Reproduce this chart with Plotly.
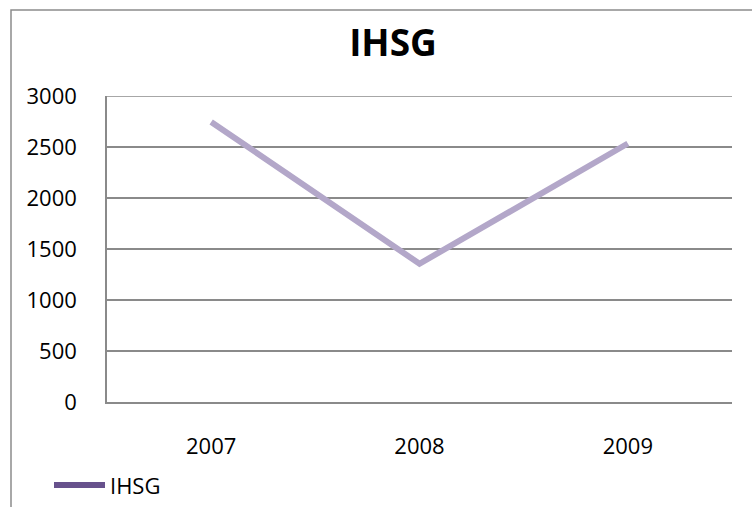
import plotly.graph_objects as go

# IHSG year-end closing values
years = ["2007", "2008", "2009"]
ihsg = [2745.83, 1355.41, 2534.36]
series_name = "IHSG"
y_ticks = [0, 500, 1000, 1500, 2000, 2500, 3000]

W, H = 752, 507
L, R, T, B = 107, 20, 96, 105
pw, ph = W - L - R, H - T - B

def px_x(p):
    return (p - L) / pw

def px_y(p):
    return (H - B - p) / ph

FONT = "Open Sans"
GRID = "#8a8a8a"
LINE = "#b3a7c9"
LEG = "#67518c"

fig = go.Figure()
fig.add_trace(go.Scatter(
    x=years, y=ihsg, mode="lines", name=series_name,
    line=dict(color=LINE, width=6), showlegend=False,
    cliponaxis=False,
))

fig.update_layout(
    width=W, height=H,
    margin=dict(l=L, r=R, t=T, b=B),
    paper_bgcolor="white", plot_bgcolor="white",
    showlegend=False,
    title=dict(text="<b>IHSG</b>", x=393 / W, xanchor="center",
               y=1 - 43 / H, yanchor="middle",
               font=dict(family=FONT, size=37, color="black")),
    xaxis=dict(
        type="category", showgrid=False, showline=True, linecolor=GRID,
        linewidth=1.5, ticks="", ticklabelstandoff=24,
        tickfont=dict(family=FONT, size=22, color="black"),
        range=[-0.5, 2.5], fixedrange=True,
    ),
    yaxis=dict(
        range=[0, y_ticks[-1]], tickvals=y_ticks, showgrid=True, gridcolor=GRID,
        gridwidth=1.5, showline=True, linecolor=GRID, linewidth=1.5,
        ticks="", ticklabelstandoff=24, zeroline=False,
        tickfont=dict(family=FONT, size=22, color="black"),
    ),
)

# Top gridline at the axis maximum
fig.add_shape(type="line", xref="x domain", yref="y",
              x0=0, x1=1, y0=y_ticks[-1], y1=y_ticks[-1],
              line=dict(color=GRID, width=1.5), layer="below")

# Chart frame
fig.add_shape(type="rect", xref="paper", yref="paper",
              x0=px_x(11), x1=px_x(790), y0=px_y(530), y1=px_y(10),
              line=dict(color="#8c8c8c", width=1.5), layer="below")

# Legend entry
fig.add_shape(type="line", xref="paper", yref="paper",
              x0=px_x(54), x1=px_x(105), y0=px_y(485), y1=px_y(485),
              line=dict(color=LEG, width=6))
fig.add_annotation(text=series_name, xref="paper", yref="paper",
                   x=px_x(108), y=px_y(485), xanchor="left", yanchor="middle",
                   showarrow=False, font=dict(family=FONT, size=22, color="black"))

fig.write_html("out.html")
